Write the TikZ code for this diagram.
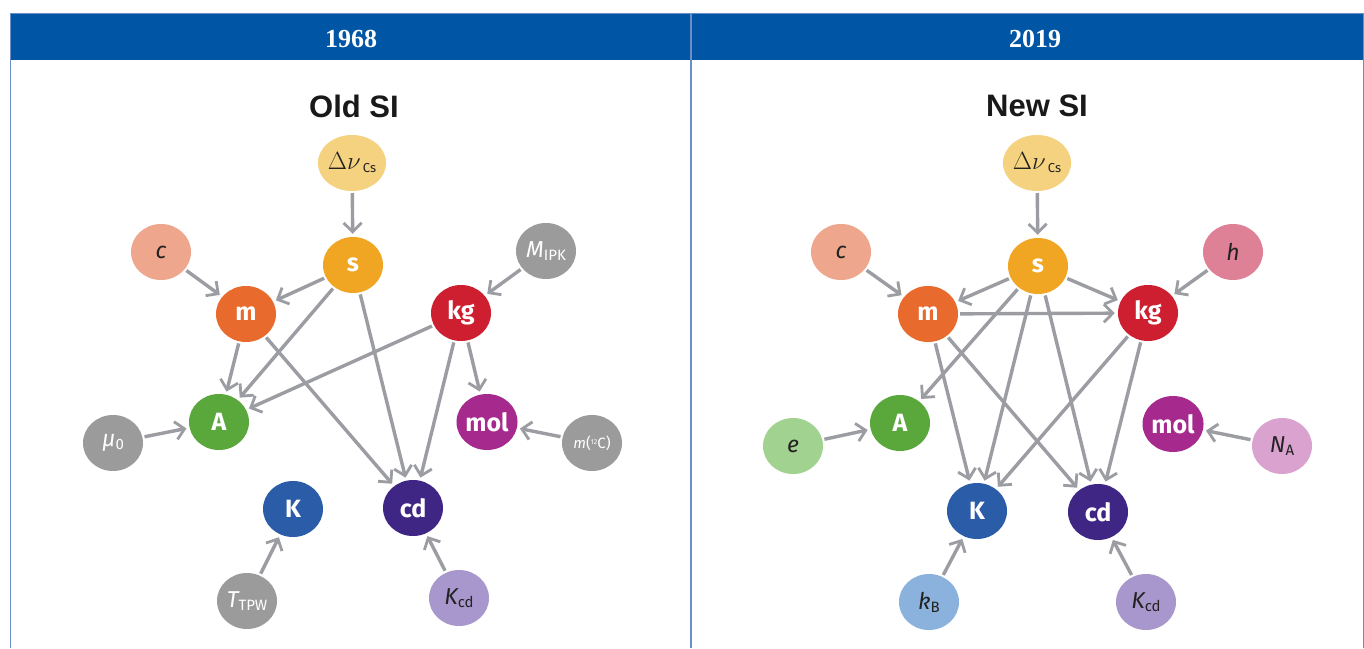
\documentclass[tikz,border=0pt]{standalone}
\usepackage{fontspec}
\setmainfont{Liberation Serif}
\newfontfamily\lab{Fira Sans}
\newfontfamily\ttl{Liberation Sans}
\usetikzlibrary{arrows.meta,shapes.geometric}
\definecolor{hdr}{HTML}{0055A4}
\definecolor{frm}{HTML}{6A8EC8}
\definecolor{agray}{HTML}{9C9DA2}
\definecolor{ngray}{HTML}{9B9B9B}
\definecolor{cDn}{HTML}{F4D27F}
\definecolor{cS}{HTML}{F0A623}
\definecolor{cC}{HTML}{EEA78C}
\definecolor{cM}{HTML}{E86A2C}
\definecolor{cKg}{HTML}{CE1F30}
\definecolor{cA}{HTML}{5AA83C}
\definecolor{cMol}{HTML}{A62A8E}
\definecolor{cK}{HTML}{2A5CA8}
\definecolor{cCd}{HTML}{3F2584}
\definecolor{cKcd}{HTML}{A897CC}
\definecolor{cH}{HTML}{DE8096}
\definecolor{cE}{HTML}{A2D28F}
\definecolor{cNA}{HTML}{DAA2CF}
\definecolor{cKB}{HTML}{8BB1DD}
\definecolor{dtxt}{HTML}{222222}
\tikzset{
  nd/.style={ellipse, minimum width=60pt, minimum height=56pt, inner sep=0pt},
  wl/.style={nd, text=white, font=\lab\bfseries\fontsize{25}{25}\selectfont},
  sym/.style={nd, font=\lab\itshape\fontsize{23}{23}\selectfont},
  arr/.style={draw=agray, line width=3.4pt, -{Straight Barb[length=9pt,width=18pt,line width=2.8pt]}, shorten >=3pt, shorten <=2pt},
  ttlsty/.style={font=\ttl\bfseries\fontsize{31}{31}\selectfont, text=black!90},
  hdrtxt/.style={font=\bfseries\fontsize{26}{26}\selectfont, text=white}
}
\newcommand{\sbs}[1]{{\upshape\fontsize{15}{15}\selectfont\raisebox{-3pt}{#1}}}
\newcommand{\dnu}{{\fontsize{24}{24}\selectfont$\Delta\nu$}{\lab\fontsize{13}{13}\selectfont\raisebox{-3pt}{\,Cs}}}
\begin{document}
\begin{tikzpicture}[x=1pt,y=-1pt]
\useasboundingbox[fill=white] (0,0) rectangle (1364,648);
% header and frame
\fill[hdr] (10,13) rectangle (1364,60);
\draw[frm, line width=1pt] (10,13) -- (1364,13);
\draw[frm, line width=1pt] (10,13) -- (10,648);
\draw[frm, line width=1.2pt] (691,13) -- (691,648);
\draw[frm, line width=1pt] (1363,13) -- (1363,648);
\node[hdrtxt] (h1) at (351,39) {1968};
\node[hdrtxt] (h2) at (1035,39) {2019};
\node[ttlsty] (t1) at (354,106) {Old SI};
\node[ttlsty] (t2) at (1037,106) {New SI};

% ---------- Old SI ----------
\node[nd, fill=cDn, text=dtxt] (LDn) at (352,163) {\dnu};
\node[wl, fill=cS] (Ls) at (353,265) {s};
\node[sym, fill=cC, text=dtxt] (Lc) at (161,252) {c};
\node[sym, fill=ngray, text=white] (LM) at (546,251) {M\sbs{IPK}};
\node[wl, fill=cM] (Lm) at (246,314) {m};
\node[wl, fill=cKg] (Lkg) at (461,313) {kg};
\node[wl, fill=cA] (LA) at (219,422) {A};
\node[wl, fill=cMol] (Lmol) at (487,422) {mol};
\node[sym, fill=ngray, text=white] (Lmu) at (113,443) {μ\sbs{0}};
\node[nd, fill=ngray, text=white, font=\lab\fontsize{15}{15}\selectfont] (LmC) at (592,443) {\textit{m}(\raisebox{4pt}{\fontsize{7}{7}\selectfont 12}C)};
\node[wl, fill=cK] (LK) at (293,509) {K};
\node[wl, fill=cCd] (Lcd) at (413,508) {cd};
\node[sym, fill=ngray, text=white] (LT) at (247,601) {T\sbs{TPW}};
\node[sym, fill=cKcd, text=dtxt] (LKcd) at (459,598) {K\sbs{cd}};

\draw[arr] (LDn) -- (Ls);
\draw[arr] (Lc) -- (Lm);
\draw[arr] (Ls) -- (Lm);
\draw[arr] (LM) -- (Lkg);
\draw[arr] (Lm) -- (LA);
\draw[arr] (Ls) -- (LA);
\draw[arr] (Lkg) -- (LA);
\draw[arr] (Lm) -- (Lcd);
\draw[arr] (Ls) -- (Lcd);
\draw[arr] (Lkg) -- (Lcd);
\draw[arr] (Lkg) -- (Lmol);
\draw[arr] (Lmu) -- (LA);
\draw[arr] (LmC) -- (Lmol);
\draw[arr] (LT) -- (LK);
\draw[arr] (LKcd) -- (Lcd);

% ---------- New SI ----------
\node[nd, fill=cDn, text=dtxt] (RDn) at (1037,163) {\dnu};
\node[wl, fill=cS] (Rs) at (1038,266) {s};
\node[sym, fill=cC, text=dtxt] (Rc) at (841,252) {c};
\node[sym, fill=cH, text=dtxt] (Rh) at (1233,252) {h};
\node[wl, fill=cM] (Rm) at (928,314) {m};
\node[wl, fill=cKg] (Rkg) at (1148,313) {kg};
\node[wl, fill=cA] (RA) at (900,423) {A};
\node[wl, fill=cMol] (Rmol) at (1173,424) {mol};
\node[sym, fill=cE, text=dtxt] (Re) at (793,446) {e};
\node[sym, fill=cNA, text=dtxt] (RNA) at (1282,446) {N\sbs{A}};
\node[wl, fill=cK] (RK) at (977,511) {K};
\node[wl, fill=cCd] (Rcd) at (1098,512) {cd};
\node[sym, fill=cKB, text=dtxt] (RkB) at (929,602) {k\sbs{B}};
\node[sym, fill=cKcd, text=dtxt] (RKcd) at (1146,602) {K\sbs{cd}};

\draw[arr] (RDn) -- (Rs);
\draw[arr] (Rc) -- (Rm);
\draw[arr] (Rs) -- (Rm);
\draw[arr] (Rh) -- (Rkg);
\draw[arr] (Rs) -- (Rkg);
\draw[arr] (Rm) -- (Rkg);
\draw[arr] (Rs) -- (RA);
\draw[arr] (Rm) -- (RK);
\draw[arr] (Rs) -- (RK);
\draw[arr] (Rkg) -- (RK);
\draw[arr] (Rm) -- (Rcd);
\draw[arr] (Rs) -- (Rcd);
\draw[arr] (Rkg) -- (Rcd);
\draw[arr] (Re) -- (RA);
\draw[arr] (RNA) -- (Rmol);
\draw[arr] (RkB) -- (RK);
\draw[arr] (RKcd) -- (Rcd);
\end{tikzpicture}
\end{document}
